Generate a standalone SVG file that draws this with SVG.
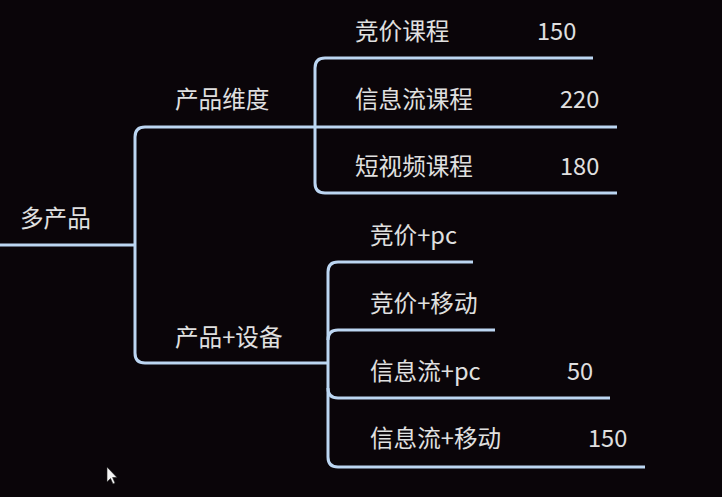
<svg xmlns="http://www.w3.org/2000/svg" width="722" height="497" viewBox="0 0 722 497">
<style>
.bg{fill:#0a0509}
.c{fill:none;stroke:#bcd6f2;stroke-width:3;stroke-linecap:butt}
.t{fill:#e0e0e0;font-family:"Noto Sans CJK SC","Noto Sans",sans-serif;font-size:23.6px}
</style>
<rect class="bg" x="0" y="0" width="722" height="497"/>
<g id="connectors">
<path class="c" d="M0 245 H135"/>
<path class="c" d="M617 127 H145 Q135 127 135 137 V353 Q135 363 145 363 H328"/>
<path class="c" d="M593 58 H325 Q315 58 315 68 V183 Q315 193 325 193 H617"/>
<path class="c" d="M473 262 H338 Q328 262 328 272 V457 Q328 467 338 467 H645"/>
<path class="c" d="M328 340 Q328 330 338 330 H495"/>
<path class="c" d="M328 388 Q328 398 338 398 H610"/>
</g>
<g id="root"><text class="t" x="20" y="227">多产品</text></g>
<g id="dim"><text class="t" x="175" y="108">产品维度</text></g>
<g id="dev"><text class="t" x="175" y="346">产品+设备</text></g>
<g id="n1"><text class="t" x="355" y="40">竞价课程</text><text class="t" x="537" y="40">150</text></g>
<g id="n2"><text class="t" x="355" y="108">信息流课程</text><text class="t" x="560" y="108">220</text></g>
<g id="n3"><text class="t" x="355" y="175">短视频课程</text><text class="t" x="560" y="175">180</text></g>
<g id="n4"><text class="t" x="370" y="244">竞价+pc</text></g>
<g id="n5"><text class="t" x="370" y="312">竞价+移动</text></g>
<g id="n6"><text class="t" x="370" y="380">信息流+pc</text><text class="t" x="567" y="380">50</text></g>
<g id="n7"><text class="t" x="370" y="447">信息流+移动</text><text class="t" x="588" y="447">150</text></g>
<path d="M107 467 V482 L110.5 478.5 L113 484 L115 483 L112.6 477.5 L117 477.5 Z" fill="#f4f4f4" stroke="#222" stroke-width="0.6"/>
</svg>
